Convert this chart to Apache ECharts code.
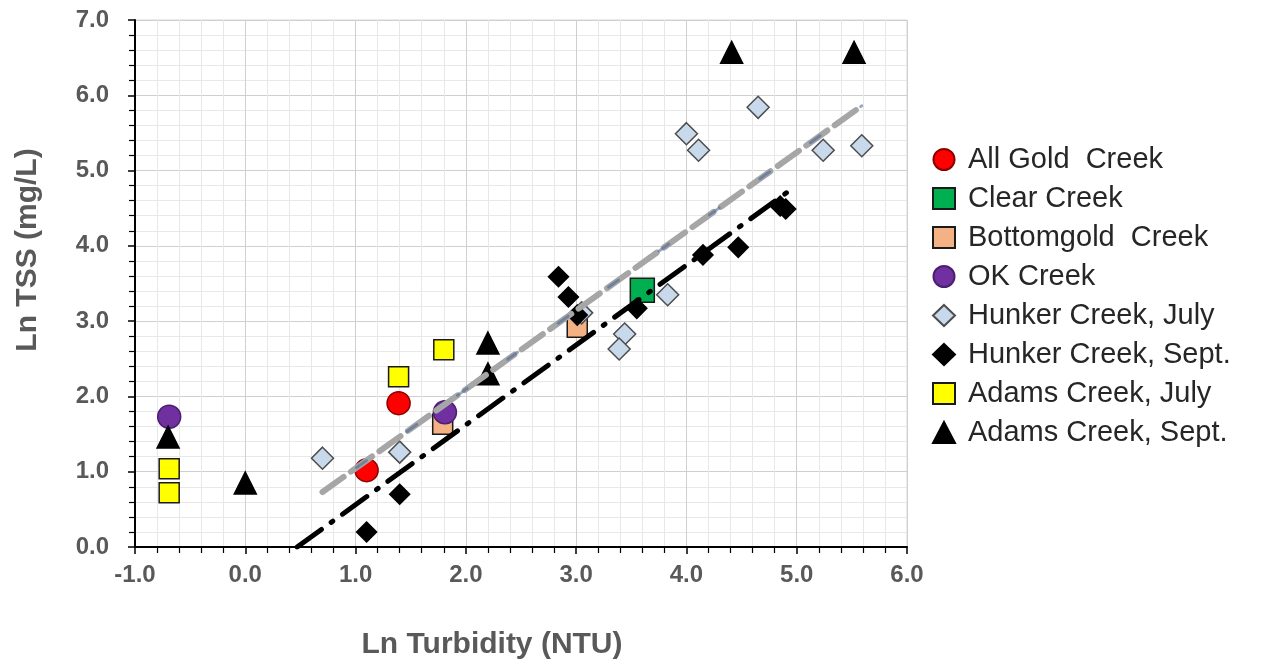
<!DOCTYPE html>
<html>
<head>
<meta charset="utf-8">
<script src="https://cdn.jsdelivr.net/npm/echarts@6/dist/echarts.min.js"></script>
<style>
  html, body { margin: 0; padding: 0; background: #fff; }
  #chart { width: 1262px; height: 664px; }
</style>
</head>
<body>
<div id="chart"></div>
<script>
// 各站点数据 (Ln Turbidity, Ln TSS)
const allGoldX = [1.39, 1.10];
const allGoldY = [1.91, 1.02];
const clearX = [3.60];
const clearY = [3.41];
const bottomgoldX = [1.79, 3.01];
const bottomgoldY = [1.63, 2.92];
const okX = [-0.69, 1.81];
const okY = [1.73, 1.79];
const hunkerJulyX = [0.70, 1.40, 3.05, 3.44, 3.39, 3.83, 4.00, 4.11, 4.65, 5.24, 5.59];
const hunkerJulyY = [1.18, 1.26, 3.11, 2.83, 2.63, 3.35, 5.49, 5.27, 5.84, 5.27, 5.33];
const hunkerSeptX = [1.10, 1.40, 2.84, 2.93, 3.01, 3.55, 4.15, 4.47, 4.85, 4.90];
const hunkerSeptY = [0.20, 0.70, 3.59, 3.32, 3.08, 3.17, 3.88, 3.98, 4.53, 4.49];
const adamsJulyX = [-0.69, -0.69, 1.39, 1.80];
const adamsJulyY = [1.04, 0.72, 2.26, 2.62];
const adamsSeptX = [-0.70, 0.00, 2.20, 2.20, 4.41, 5.52];
const adamsSeptY = [1.46, 0.85, 2.71, 2.30, 6.57, 6.57];

// 趋势线端点
const trendGrayX = [0.70, 5.59];
const trendGrayY = [0.73, 5.86];
const trendBlackX = [0.47, 4.94];
const trendBlackY = [0.00, 4.74];

const seriesNames = ['All Gold  Creek', 'Clear Creek', 'Bottomgold  Creek', 'OK Creek',
    'Hunker Creek, July', 'Hunker Creek, Sept.', 'Adams Creek, July', 'Adams Creek, Sept.'];

const chartDom = document.getElementById('chart');
const myChart = echarts.init(chartDom);

function pairs(xs, ys) {
    return xs.map((x, i) => [x, ys[i]]);
}

function scatter(name, xs, ys, symbol, size, fill, border) {
    return {
        name: name,
        type: 'scatter',
        data: pairs(xs, ys),
        symbol: symbol,
        symbolSize: size,
        itemStyle: { color: fill, borderColor: border, borderWidth: 1.5, opacity: 1 },
        z: 3
    };
}

const grayText = '#595959';

const option = {
    animation: false,
    grid: {
        left: 135, right: 355, top: 20, bottom: 117,
        show: true, borderColor: '#d9d9d9', borderWidth: 1
    },
    xAxis: {
        type: 'value', min: -1, max: 6, interval: 1,
        axisLine: { show: true, onZero: false, lineStyle: { color: '#000', width: 2 } },
        axisTick: { show: true, length: 7, lineStyle: { color: '#000', width: 1.5 } },
        minorTick: { show: true, splitNumber: 5, length: 6, lineStyle: { color: '#000', width: 1.2 } },
        axisLabel: {
            margin: 16, color: grayText, fontSize: 24, fontWeight: 'bold',
            fontFamily: 'Liberation Sans, Arial, sans-serif',
            formatter: v => v.toFixed(1)
        },
        splitLine: { show: true, lineStyle: { color: '#cfcfcf', width: 1 } },
        minorSplitLine: { show: true, lineStyle: { color: '#e8e8e8', width: 1 } }
    },
    yAxis: {
        type: 'value', min: 0, max: 7, interval: 1,
        axisLine: { show: true, onZero: false, lineStyle: { color: '#000', width: 2 } },
        axisTick: { show: true, length: 7, lineStyle: { color: '#000', width: 1.5 } },
        minorTick: { show: true, splitNumber: 5, length: 6, lineStyle: { color: '#000', width: 1.2 } },
        axisLabel: {
            margin: 26, color: grayText, fontSize: 24, fontWeight: 'bold',
            fontFamily: 'Liberation Sans, Arial, sans-serif',
            formatter: v => v.toFixed(1)
        },
        splitLine: { show: true, lineStyle: { color: '#cfcfcf', width: 1 } },
        minorSplitLine: { show: true, lineStyle: { color: '#e8e8e8', width: 1 } }
    },
    legend: {
        data: seriesNames,
        orient: 'vertical',
        left: 927, top: 140,
        itemWidth: 22, itemHeight: 21, itemGap: 10,
        textStyle: {
            color: '#262626', fontSize: 29, lineHeight: 24,
            fontFamily: 'Liberation Sans, Arial, sans-serif',
            padding: [0, 0, 0, 8]
        }
    },
    graphic: [
        {
            type: 'text', x: 28, y: 250, rotation: Math.PI / 2,
            style: {
                text: 'Ln TSS (mg/L)', fill: grayText,
                font: 'bold 30px "Liberation Sans", Arial, sans-serif',
                align: 'center', verticalAlign: 'middle'
            }
        },
        {
            type: 'text', x: 492, y: 645,
            style: {
                text: 'Ln Turbidity (NTU)', fill: grayText,
                font: 'bold 30px "Liberation Sans", Arial, sans-serif',
                align: 'center', verticalAlign: 'middle'
            }
        }
    ],
    series: [
        scatter(seriesNames[0], allGoldX, allGoldY, 'circle', 23, '#ff0000', '#8b0000'),
        scatter(seriesNames[1], clearX, clearY, 'rect', 24, '#00b050', '#1a1a1a'),
        scatter(seriesNames[2], bottomgoldX, bottomgoldY, 'rect', 20, '#f4b183', '#1a1a1a'),
        scatter(seriesNames[3], okX, okY, 'circle', 23, '#7030a0', '#4b1f6f'),
        scatter(seriesNames[4], hunkerJulyX, hunkerJulyY, 'diamond', 22, '#c9d9ec', '#4d4d4d'),
        scatter(seriesNames[5], hunkerSeptX, hunkerSeptY, 'diamond', 20, '#000000', '#000000'),
        scatter(seriesNames[6], adamsJulyX, adamsJulyY, 'rect', 20, '#ffff00', '#1a1a1a'),
        scatter(seriesNames[7], adamsSeptX, adamsSeptY, 'triangle', 22, '#000000', '#000000'),
        {
            name: 'trendGray', type: 'line', data: pairs(trendGrayX, trendGrayY),
            symbol: 'none', silent: true, z: 4,
            lineStyle: { color: '#a6a6a6', width: 6, type: [26, 9], cap: 'round' }
        },
        {
            name: 'trendBlue', type: 'line', data: pairs(trendGrayX, trendGrayY),
            symbol: 'none', silent: true, z: 5,
            lineStyle: { color: 'rgba(70,100,150,0.55)', width: 3, type: [12, 50], dashOffset: 20, cap: 'round' }
        },
        {
            name: 'trendBlack', type: 'line', data: pairs(trendBlackX, trendBlackY),
            symbol: 'none', silent: true, z: 4,
            lineStyle: { color: '#000000', width: 5, type: [30, 12, 2, 12], cap: 'round' }
        }
    ]
};

myChart.setOption(option);

window.addEventListener('resize', function() {
    myChart.resize();
});
</script>
</body>
</html>
